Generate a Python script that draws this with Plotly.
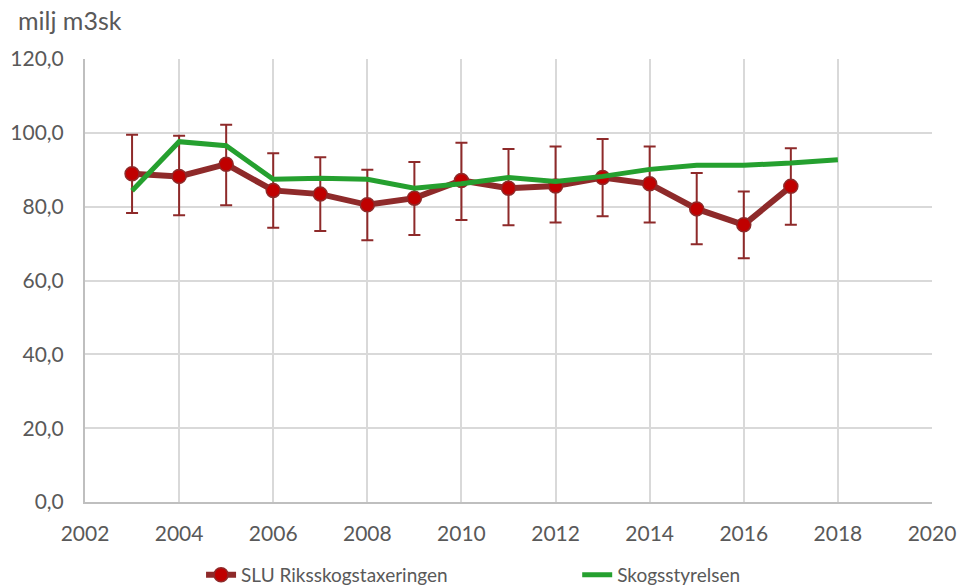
import plotly.graph_objects as go

years_slu = [2003, 2004, 2005, 2006, 2007, 2008, 2009, 2010, 2011, 2012, 2013, 2014, 2015, 2016, 2017]
slu = [88.9, 88.2, 91.5, 84.4, 83.4, 80.5, 82.3, 87.1, 85.0, 85.6, 87.9, 86.2, 79.4, 75.1, 85.5]
slu_hi = [99.5, 99.2, 102.2, 94.5, 93.4, 90.0, 92.1, 97.3, 95.6, 96.3, 98.3, 96.3, 89.1, 84.1, 95.8]
slu_lo = [78.3, 77.7, 80.4, 74.3, 73.4, 70.9, 72.3, 76.4, 75.0, 75.7, 77.4, 75.7, 69.8, 66.0, 75.1]

years_sks = [2003, 2004, 2005, 2006, 2007, 2008, 2009, 2010, 2011, 2012, 2013, 2014, 2015, 2016, 2017, 2018]
sks = [84.3, 97.6, 96.5, 87.4, 87.7, 87.4, 85.0, 86.2, 87.9, 86.8, 88.2, 90.1, 91.2, 91.2, 91.8, 92.7]

err_plus = [h - v for h, v in zip(slu_hi, slu)]
err_minus = [v - l for v, l in zip(slu, slu_lo)]

DARK = "#8E2A2A"
RED = "#C00000"
GREEN = "#25A02F"
FONT = "Lato"
GREY = "#595959"

fig = go.Figure()
fig.add_trace(go.Scatter(
    x=years_slu, y=slu, name="SLU Riksskogstaxeringen", mode="lines+markers",
    line=dict(color=DARK, width=6),
    marker=dict(color=RED, size=14, line=dict(color=DARK, width=1.5)),
    error_y=dict(type="data", symmetric=False, array=err_plus, arrayminus=err_minus,
                 color=DARK, thickness=2, width=6),
    legend="legend",
))
fig.add_trace(go.Scatter(
    x=years_sks, y=sks, name="Skogsstyrelsen", mode="lines",
    line=dict(color=GREEN, width=5),
    legend="legend2",
))

legend_common = dict(orientation="h", xref="container", yref="container",
                     y=0.019, yanchor="middle", xanchor="left",
                     bgcolor="rgba(0,0,0,0)",
                     font=dict(family=FONT, size=19, color=GREY))

fig.update_layout(
    width=962, height=586,
    margin=dict(l=85, r=30, t=59, b=84, autoexpand=False),
    paper_bgcolor="white", plot_bgcolor="white",
    separators=", ",
    font=dict(family=FONT, size=21, color=GREY),
    showlegend=True,
    legend=dict(x=0.209, **legend_common),
    legend2=dict(x=0.6, **legend_common),
    annotations=[dict(text="milj m3sk", xref="paper", yref="paper", x=-0.082, y=1.088,
                      xanchor="left", yanchor="middle", showarrow=False,
                      font=dict(family=FONT, size=25, color=GREY))],
)
fig.update_xaxes(range=[2002, 2020], dtick=2, tick0=2002, showgrid=True, gridcolor="#D9D9D9",
                 gridwidth=2, showline=True, linecolor="#BFBFBF", linewidth=2, zeroline=False,
                 ticks="", ticklabelstandoff=12)
fig.update_yaxes(range=[0, 120], dtick=20, tickformat=".1f", showgrid=True, gridcolor="#D9D9D9",
                 gridwidth=2, showline=True, linecolor="#BFBFBF", linewidth=2, zeroline=False,
                 ticks="", ticklabelstandoff=15)

fig.write_html("out.html")
